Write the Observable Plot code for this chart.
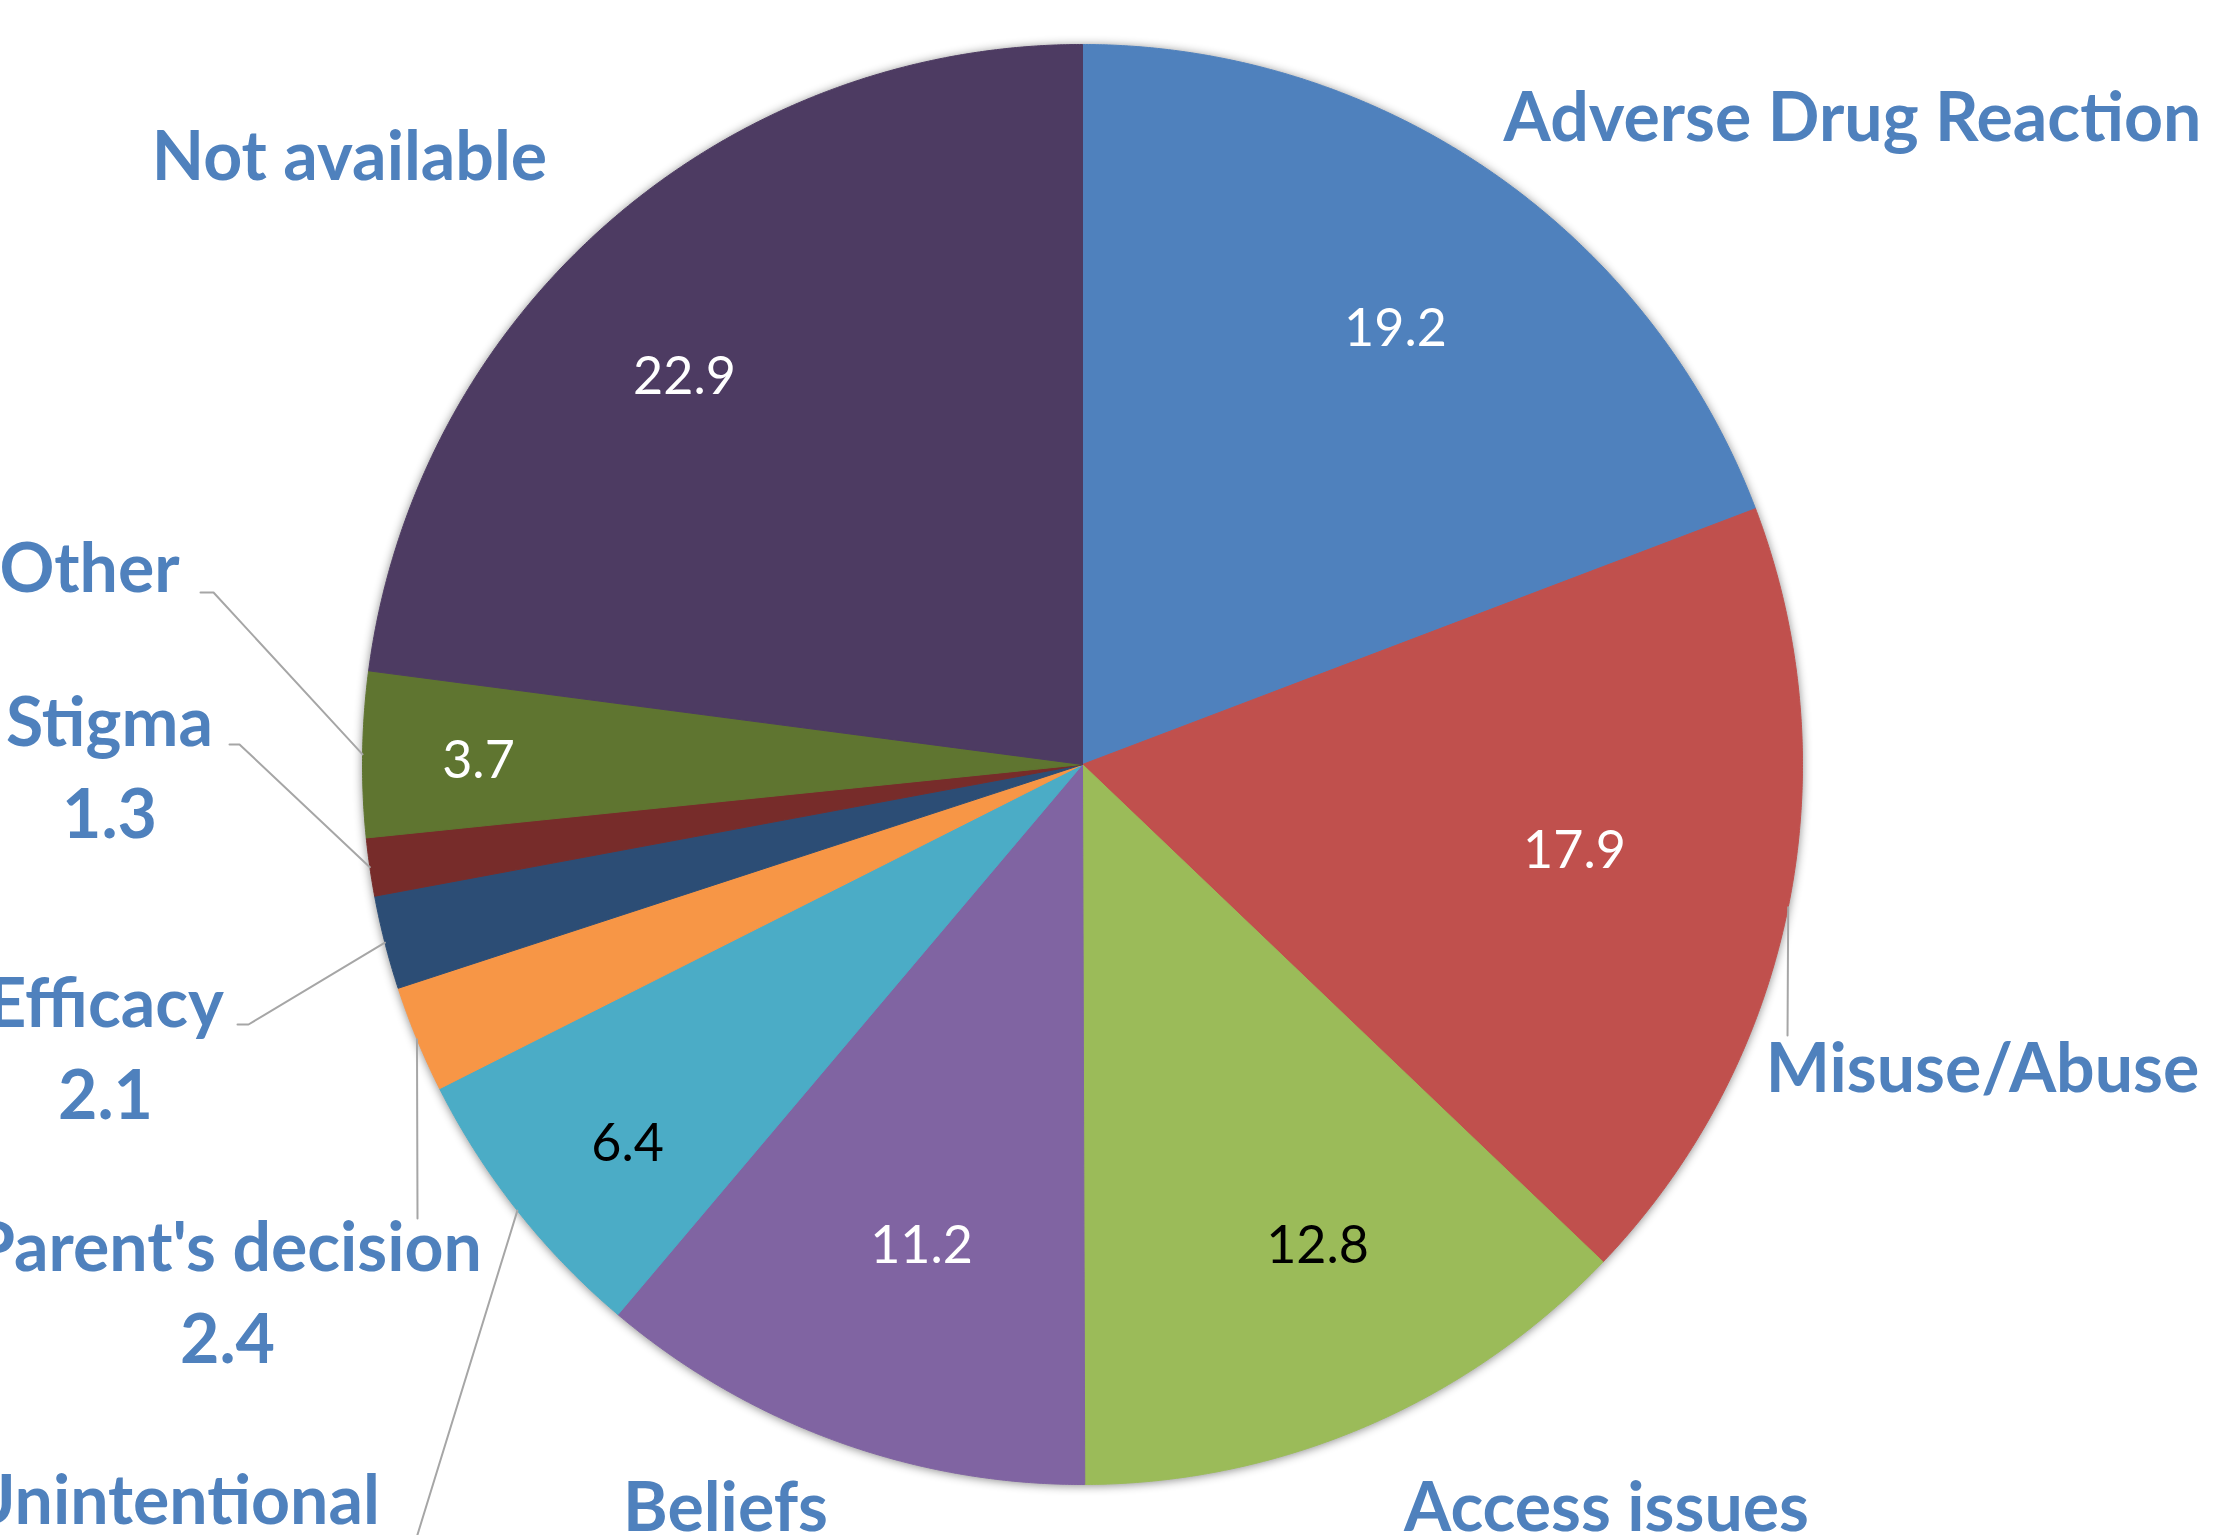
<!DOCTYPE html>
<html>
<head>
<meta charset="utf-8">
<script src="https://cdn.jsdelivr.net/npm/d3@7"></script>
<script src="https://cdn.jsdelivr.net/npm/@observablehq/plot@0.6"></script>
<style>
  html, body { margin: 0; padding: 0; background: #fff; overflow: hidden; }
</style>
</head>
<body>
<div id="chart"></div>
<script>
// ---- data ----
const categories = ["Adverse Drug Reaction", "Misuse/Abuse", "Access issues", "Beliefs", "Unintentional",
  "Parent's decision", "Efficacy", "Stigma", "Other", "Not available"];
const values = [19.2, 17.9, 12.8, 11.2, 6.4, 2.4, 2.1, 1.3, 3.7, 22.9];
const sliceColors = ["#4F81BD", "#C0504D", "#9BBB59", "#8064A2", "#4BACC6",
  "#F79646", "#2C4D75", "#772C2A", "#5F7530", "#4D3B62"];
// where each value is shown: inside the slice (white / black text) or under the outer label
const valuePlacement = ["in-white", "in-white", "in-black", "in-white", "in-black",
  "out", "out", "out", "in-white", "in-white"];

// ---- layout (pie radius units, relative to pie centre) ----
const W = 2228, H = 1535, CX = 1082, CY = 764, R = 720;
const outerLabelPos = {
  "Adverse Drug Reaction": [1.0694, 0.8653],
  "Misuse/Abuse": [1.25, -0.4542],
  "Access issues": [0.7278, -1.0639],
  "Beliefs": [-0.4958, -1.0639],
  "Unintentional": [-1.2639, -1.0542],
  "Parent's decision": [-1.1875, -0.8306],
  "Efficacy": [-1.3569, -0.4917],
  "Stigma": [-1.3514, -0.1014],
  "Other": [-1.3792, 0.2389],
  "Not available": [-1.0181, 0.8125]
};
const innerLabelPos = {
  "Adverse Drug Reaction": [0.4347, 0.6042],
  "Misuse/Abuse": [0.6833, -0.1208],
  "Access issues": [0.3264, -0.6694],
  "Beliefs": [-0.2236, -0.6694],
  "Unintentional": [-0.6319, -0.5278],
  "Other": [-0.8389, 0.0042],
  "Not available": [-0.5528, 0.5375]
};
const leaderRoute = {
  "Misuse/Abuse": [[0.9792, -0.3764]],
  "Unintentional": [[-0.9347, -1.1056]],
  "Parent's decision": [[-0.9236, -0.6306]],
  "Efficacy": [[-1.1583, -0.3611], [-1.1736, -0.3611]],
  "Stigma": [[-1.1708, 0.0278], [-1.1847, 0.0278]],
  "Other": [[-1.2069, 0.2389], [-1.225, 0.2389]]
};

// ---- geometry from the data ----
const arcs = d3.pie().sort(null)(values);
const slicePts = arcs.flatMap((a, i) => {
  const cat = categories[i];
  const n = Math.max(4, Math.ceil((a.endAngle - a.startAngle) / 0.004));
  const pts = [{cat, x: 0, y: 0}];
  for (let k = 0; k <= n; k++) {
    const t = a.startAngle + (a.endAngle - a.startAngle) * k / n;
    pts.push({cat, x: Math.sin(t), y: Math.cos(t)});
  }
  pts.push({cat, x: 0, y: 0});
  return pts;
});

const leaderPts = arcs.flatMap((a, i) => {
  const cat = categories[i];
  const route = leaderRoute[cat];
  if (!route) return [];
  const m = (a.startAngle + a.endAngle) / 2;
  return [{cat, x: Math.sin(m), y: Math.cos(m)}, ...route.map(([x, y]) => ({cat, x, y}))];
});

const outerLabels = categories.map((cat, i) => ({
  x: outerLabelPos[cat][0], y: outerLabelPos[cat][1],
  text: valuePlacement[i] === "out" ? `${cat}\n${values[i].toFixed(1)}` : cat
}));
const innerLabels = categories.map((cat, i) => ({
  cat, place: valuePlacement[i], text: values[i].toFixed(1),
  x: innerLabelPos[cat] ? innerLabelPos[cat][0] : 0,
  y: innerLabelPos[cat] ? innerLabelPos[cat][1] : 0
})).filter(d => d.place !== "out");

const chart = Plot.plot({
  width: W, height: H, margin: 0,
  x: {domain: [-CX / R, (W - CX) / R], axis: null},
  y: {domain: [-(H - CY) / R, CY / R], axis: null},
  color: {domain: categories, range: sliceColors},
  style: {fontFamily: "Lato, 'Open Sans', sans-serif", background: "white", overflow: "hidden"},
  marks: [
    Plot.line(slicePts, {x: "x", y: "y", z: "cat", fill: "cat", stroke: "cat", strokeWidth: 1, curve: "linear"}),
    Plot.line(leaderPts, {x: "x", y: "y", z: "cat", stroke: "#A6A6A6", strokeWidth: 2, curve: "linear"}),
    Plot.text(outerLabels, {x: "x", y: "y", text: "text", fill: "#4F81BD", fontSize: 68, fontWeight: "bold",
      textAnchor: "middle", lineAnchor: "bottom", lineHeight: 1.34}),
    Plot.text(innerLabels.filter(d => d.place === "in-white"), {x: "x", y: "y", text: "text", fill: "white",
      fontSize: 52, textAnchor: "middle", lineAnchor: "middle"}),
    Plot.text(innerLabels.filter(d => d.place === "in-black"), {x: "x", y: "y", text: "text", fill: "black",
      fontSize: 52, textAnchor: "middle", lineAnchor: "middle"})
  ]
});

const pieGroup = chart.querySelector('g[aria-label="line"]');
if (pieGroup) pieGroup.style.filter = "drop-shadow(0px 1px 5px rgba(0,0,0,0.45))";
document.getElementById("chart").appendChild(chart);
</script>
</body>
</html>
